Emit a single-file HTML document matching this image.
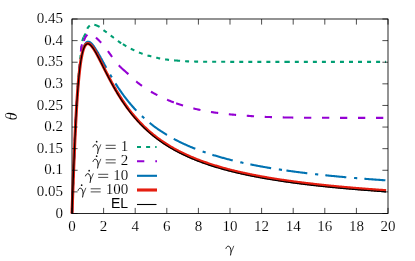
<!DOCTYPE html>
<html><head><meta charset="utf-8"><title>plot</title>
<style>
html,body{margin:0;padding:0;background:#fff;}
body{width:415px;height:261px;overflow:hidden;}
svg{display:block;}
text{font-family:"Liberation Serif",serif;font-size:15px;fill:#000;stroke:#fff;stroke-width:0.12px;}
.txt{will-change:transform;}
.it{font-style:italic;}
.sans{font-family:"Liberation Sans",sans-serif;font-size:14px;stroke:none;}
</style></head><body>
<svg width="415" height="261" viewBox="0 0 415 261" role="img">
<rect width="415" height="261" fill="#fff"/>
<title>θ versus γ for shear rates γ̇ = 1, 2, 10, 100 and EL</title>
<g fill="none" stroke-linecap="butt" stroke-linejoin="round">
<path d="M72.00,213.50 L72.16,209.12 L72.32,204.77 L72.47,200.44 L72.63,196.13 L72.79,191.84 L72.95,187.56 L73.11,183.28 L73.26,179.03 L73.42,174.85 L73.58,170.77 L73.74,166.76 L73.90,162.76 L74.05,158.80 L74.21,154.87 L74.37,150.99 L74.53,147.18 L74.69,143.44 L74.84,139.79 L75.00,136.24 L75.16,132.80 L75.32,129.44 L75.48,126.13 L75.63,122.88 L75.79,119.70 L75.95,116.59 L76.11,113.55 L76.27,110.59 L76.42,107.72 L76.58,104.95 L76.74,102.27 L76.90,99.67 L77.06,97.13 L77.21,94.65 L77.37,92.23 L77.53,89.88 L77.69,87.60 L77.85,85.39 L78.00,83.25 L78.16,81.18 L78.32,79.20 L78.48,77.28 L78.64,75.42 L78.79,73.62 L78.95,71.87 L79.11,70.17 L79.27,68.52 L79.43,66.92 L79.58,65.35 L79.74,63.82 L79.90,62.33 L80.06,60.84 L80.22,59.32 L80.37,57.78 L80.53,56.23 L80.69,54.68 L80.85,53.14 L81.01,51.63 L81.16,50.15 L81.32,48.72 L81.48,47.33 L81.64,46.02 L81.80,44.77 L81.95,43.61 L82.11,42.55 L82.27,41.59 L82.43,40.75 L82.59,40.03 L82.74,39.45 L82.90,38.94 L83.06,38.48 L83.22,38.06 L83.38,37.67 L83.53,37.32 L83.69,36.99 L83.85,36.67 L84.01,36.38 L84.17,36.09 L84.32,35.80 L84.48,35.51 L84.64,35.21 L84.80,34.90 L84.96,34.56 L85.11,34.21 L85.27,33.82 L85.43,33.40 L85.59,32.95 L85.75,32.49 L85.90,32.02 L86.06,31.55 L86.22,31.09 L86.38,30.65 L86.54,30.23 L86.69,29.84 L86.85,29.50 L87.01,29.19 L87.17,28.89 L87.33,28.60 L87.48,28.33 L87.64,28.06 L87.80,27.81 L87.96,27.57 L88.12,27.34 L88.27,27.12 L88.43,26.92 L88.59,26.73 L88.75,26.55 L88.91,26.39 L89.06,26.24 L89.22,26.09 L89.38,25.94 L89.54,25.78 L89.70,25.63 L89.85,25.49 L90.01,25.34 L90.17,25.21 L90.33,25.08 L90.49,24.95 L90.64,24.83 L90.80,24.73 L90.96,24.63 L91.12,24.54 L91.28,24.47 L91.43,24.40 L91.59,24.35 L91.75,24.32 L91.91,24.30 L92.07,24.30 L92.22,24.31 L92.38,24.32 L92.54,24.34 L92.70,24.36 L92.86,24.39 L93.01,24.42 L93.17,24.45 L93.33,24.49 L93.49,24.53 L93.65,24.57 L93.80,24.61 L93.96,24.65 L94.12,24.70 L94.28,24.74 L94.44,24.78 L94.59,24.82 L94.75,24.87 L94.91,24.91 L95.07,24.96 L95.23,25.01 L95.38,25.06 L95.54,25.11 L95.70,25.16 L95.86,25.21 L96.02,25.27 L96.17,25.33 L96.33,25.39 L96.49,25.45 L96.65,25.51 L96.81,25.57 L96.96,25.64 L97.12,25.70 L97.28,25.77 L97.44,25.84 L97.60,25.91 L97.75,25.98 L97.91,26.06 L98.07,26.13 L98.23,26.21 L98.39,26.29 L98.54,26.37 L98.70,26.45 L98.86,26.53 L99.02,26.61 L99.18,26.70 L99.33,26.78 L99.49,26.87 L99.65,26.96 L99.81,27.05 L99.97,27.14 L100.12,27.24 L100.28,27.34 L100.44,27.45 L100.60,27.57 L100.76,27.70 L100.91,27.82 L101.07,27.96 L101.23,28.09 L101.39,28.23 L101.55,28.38 L101.70,28.52 L101.86,28.67 L102.02,28.81 L102.18,28.96 L102.34,29.11 L102.49,29.25 L102.65,29.40 L102.81,29.54 L102.97,29.68 L103.13,29.82 L103.28,29.95 L103.44,30.08 L103.60,30.20 L103.76,30.32 L103.92,30.44 L104.07,30.55 L104.23,30.67 L104.39,30.78 L104.55,30.89 L104.71,31.00 L104.86,31.11 L105.02,31.22 L105.18,31.33 L105.34,31.44 L105.50,31.54 L105.65,31.65 L105.81,31.76 L105.97,31.87 L106.13,31.97 L106.29,32.08 L106.44,32.19 L106.60,32.30 L106.76,32.41 L106.92,32.52 L107.08,32.64 L107.23,32.75 L107.39,32.87 L107.55,32.99 L107.71,33.10 L107.87,33.22 L108.02,33.34 L108.18,33.46 L108.34,33.58 L108.50,33.71 L108.66,33.83 L108.81,33.95 L108.97,34.07 L109.13,34.20 L109.29,34.32 L109.45,34.45 L109.60,34.57 L109.76,34.70 L109.92,34.82 L110.08,34.95 L110.24,35.07 L110.39,35.19 L110.55,35.32 L110.71,35.44 L110.87,35.57 L111.03,35.69 L111.18,35.81 L111.34,35.94 L111.50,36.06 L111.66,36.18 L111.82,36.30 L111.97,36.42 L112.13,36.54 L112.29,36.67 L112.45,36.79 L112.61,36.91 L112.76,37.03 L112.92,37.16 L113.08,37.28 L113.24,37.40 L113.40,37.53 L113.55,37.65 L113.71,37.77 L113.87,37.90 L114.03,38.02 L114.19,38.15 L114.34,38.27 L114.50,38.39 L114.66,38.52 L114.82,38.64 L114.98,38.76 L115.13,38.89 L115.29,39.01 L115.45,39.13 L115.61,39.25 L115.77,39.38 L115.92,39.50 L116.08,39.62 L116.24,39.74 L116.40,39.86 L116.56,39.98 L116.71,40.10 L116.87,40.21 L117.03,40.33 L117.19,40.45 L117.35,40.57 L117.50,40.68 L117.66,40.80 L117.82,40.91 L117.98,41.02 L118.14,41.13 L118.29,41.25 L118.45,41.36 L118.61,41.47 L118.77,41.58 L118.93,41.68 L119.08,41.79 L119.24,41.89 L119.40,42.00 L120.18,42.51 L120.97,43.02 L121.75,43.52 L122.54,44.00 L123.32,44.48 L124.11,44.96 L124.89,45.42 L125.68,45.87 L126.46,46.32 L127.24,46.76 L128.03,47.19 L128.81,47.61 L129.60,48.03 L130.38,48.43 L131.17,48.83 L131.95,49.23 L132.74,49.62 L133.52,50.00 L134.30,50.38 L135.09,50.76 L135.87,51.12 L136.66,51.48 L137.44,51.82 L138.23,52.16 L139.01,52.48 L139.79,52.80 L140.58,53.10 L141.36,53.38 L142.15,53.66 L142.93,53.93 L143.72,54.20 L144.50,54.46 L145.29,54.71 L146.07,54.96 L146.85,55.20 L147.64,55.43 L148.42,55.66 L149.21,55.88 L149.99,56.10 L150.78,56.31 L151.56,56.52 L152.35,56.72 L153.13,56.91 L153.91,57.10 L154.70,57.29 L155.48,57.47 L156.27,57.65 L157.05,57.83 L157.84,58.01 L158.62,58.18 L159.41,58.35 L160.19,58.51 L160.97,58.67 L161.76,58.82 L162.54,58.96 L163.33,59.10 L164.11,59.22 L164.90,59.35 L165.68,59.46 L166.46,59.56 L167.25,59.66 L168.03,59.75 L168.82,59.84 L169.60,59.92 L170.39,60.00 L171.17,60.08 L171.96,60.15 L172.74,60.22 L173.52,60.29 L174.31,60.36 L175.09,60.43 L175.88,60.49 L176.66,60.55 L177.45,60.62 L178.23,60.69 L179.02,60.75 L179.80,60.82 L180.58,60.88 L181.37,60.95 L182.15,61.01 L182.94,61.07 L183.72,61.13 L184.51,61.19 L185.29,61.24 L186.08,61.29 L186.86,61.34 L187.64,61.38 L188.43,61.42 L189.21,61.45 L190.00,61.47 L190.78,61.50 L191.57,61.51 L192.35,61.53 L193.13,61.54 L193.92,61.55 L194.70,61.57 L195.49,61.58 L196.27,61.59 L197.06,61.60 L197.84,61.61 L198.63,61.62 L199.41,61.63 L200.19,61.64 L200.98,61.65 L201.76,61.66 L202.55,61.67 L203.33,61.68 L204.12,61.68 L204.90,61.69 L205.69,61.70 L206.47,61.70 L207.25,61.71 L208.04,61.72 L208.82,61.72 L209.61,61.73 L210.39,61.73 L211.18,61.74 L211.96,61.74 L212.75,61.75 L213.53,61.75 L214.31,61.75 L215.10,61.76 L215.88,61.76 L216.67,61.77 L217.45,61.77 L218.24,61.77 L219.02,61.78 L219.80,61.78 L220.59,61.79 L221.37,61.79 L222.16,61.79 L222.94,61.80 L223.73,61.80 L224.51,61.81 L225.30,61.81 L226.08,61.81 L226.86,61.82 L227.65,61.82 L228.43,61.82 L229.22,61.83 L230.00,61.83 L230.79,61.83 L231.57,61.84 L232.36,61.84 L233.14,61.84 L233.92,61.85 L234.71,61.85 L235.49,61.85 L236.28,61.85 L237.06,61.86 L237.85,61.86 L238.63,61.86 L239.42,61.86 L240.20,61.87 L240.98,61.87 L241.77,61.87 L242.55,61.87 L243.34,61.88 L244.12,61.88 L244.91,61.88 L245.69,61.88 L246.47,61.88 L247.26,61.89 L248.04,61.89 L248.83,61.89 L249.61,61.89 L250.40,61.89 L251.18,61.89 L251.97,61.89 L252.75,61.90 L253.53,61.90 L254.32,61.90 L255.10,61.90 L255.89,61.90 L256.67,61.90 L257.46,61.90 L258.24,61.90 L259.03,61.90 L259.81,61.90 L260.59,61.90 L261.38,61.90 L262.16,61.90 L262.95,61.90 L263.73,61.90 L264.52,61.90 L265.30,61.90 L266.09,61.90 L266.87,61.90 L267.65,61.90 L268.44,61.90 L269.22,61.90 L270.01,61.90 L270.79,61.90 L271.58,61.90 L272.36,61.90 L273.14,61.90 L273.93,61.90 L274.71,61.90 L275.50,61.90 L276.28,61.90 L277.07,61.90 L277.85,61.90 L278.64,61.90 L279.42,61.90 L280.20,61.90 L280.99,61.90 L281.77,61.90 L282.56,61.90 L283.34,61.90 L284.13,61.90 L284.91,61.90 L285.70,61.90 L286.48,61.90 L287.26,61.90 L288.05,61.90 L288.83,61.90 L289.62,61.90 L290.40,61.90 L291.19,61.90 L291.97,61.90 L292.76,61.90 L293.54,61.90 L294.32,61.90 L295.11,61.90 L295.89,61.90 L296.68,61.90 L297.46,61.90 L298.25,61.90 L299.03,61.90 L299.81,61.90 L300.60,61.90 L301.38,61.90 L302.17,61.90 L302.95,61.90 L303.74,61.90 L304.52,61.90 L305.31,61.90 L306.09,61.90 L306.87,61.90 L307.66,61.90 L308.44,61.90 L309.23,61.90 L310.01,61.90 L310.80,61.90 L311.58,61.90 L312.37,61.90 L313.15,61.90 L313.93,61.90 L314.72,61.90 L315.50,61.90 L316.29,61.90 L317.07,61.90 L317.86,61.90 L318.64,61.90 L319.43,61.90 L320.21,61.90 L320.99,61.90 L321.78,61.90 L322.56,61.90 L323.35,61.90 L324.13,61.90 L324.92,61.90 L325.70,61.90 L326.48,61.90 L327.27,61.90 L328.05,61.90 L328.84,61.90 L329.62,61.90 L330.41,61.90 L331.19,61.90 L331.98,61.90 L332.76,61.90 L333.54,61.90 L334.33,61.90 L335.11,61.90 L335.90,61.90 L336.68,61.90 L337.47,61.90 L338.25,61.90 L339.04,61.90 L339.82,61.90 L340.60,61.90 L341.39,61.90 L342.17,61.90 L342.96,61.90 L343.74,61.90 L344.53,61.90 L345.31,61.90 L346.10,61.90 L346.88,61.90 L347.66,61.90 L348.45,61.90 L349.23,61.90 L350.02,61.90 L350.80,61.90 L351.59,61.90 L352.37,61.90 L353.15,61.90 L353.94,61.90 L354.72,61.90 L355.51,61.90 L356.29,61.90 L357.08,61.90 L357.86,61.90 L358.65,61.90 L359.43,61.90 L360.21,61.90 L361.00,61.90 L361.78,61.90 L362.57,61.90 L363.35,61.90 L364.14,61.90 L364.92,61.90 L365.71,61.90 L366.49,61.90 L367.27,61.90 L368.06,61.90 L368.84,61.90 L369.63,61.90 L370.41,61.90 L371.20,61.90 L371.98,61.90 L372.77,61.90 L373.55,61.90 L374.33,61.90 L375.12,61.90 L375.90,61.90 L376.69,61.90 L377.47,61.90 L378.26,61.90 L379.04,61.90 L379.82,61.90 L380.61,61.90 L381.39,61.90 L382.18,61.90 L382.96,61.90 L383.75,61.90 L384.53,61.90 L385.32,61.90 L386.10,61.90" stroke="#009e73" stroke-width="2.1" stroke-dasharray="4.00 5.03 4.00 5.03 4.00 5.03 4.00 5.03 4.00 5.03 4.00 5.03 4.00 5.03 4.00 5.03 4.00 5.03 4.00 5.03 4.00 5.03 4.00 5.03 4.00 5.03 4.00 5.03 5.19 5.03 4.00 5.03 4.00 5.03 4.00 5.03 4.00 5.03 4.00 0.37 4.00 5.03 4.00 5.03 5.75 5.03 4.00 5.03 4.00 5.03 4.00 1.94 4.00 5.03 4.00 5.03 4.00 5.03 4.00 5.03 4.00 5.03 4.00 5.03 6.03 5.03 4.00 5.03 4.00 5.03 4.00 5.03 4.00 5.03 4.00 5.03 4.00 5.03 4.00 5.03 4.00 5.03 4.00 5.03 4.00 5.03 4.00 5.03 5.38 5.03 4.00 5.03 4.00 5.03 4.00 5.03 4.00 5.03 4.00 5.03 4.00 5.03 4.00 5.03 4.00 5.03 4.00 5.03 4.00 5.03 3.87 100.00"/>
<path d="M72.00,213.50 L72.16,209.13 L72.32,204.79 L72.47,200.47 L72.63,196.18 L72.79,191.92 L72.95,187.66 L73.11,183.40 L73.26,179.18 L73.42,175.03 L73.58,170.98 L73.74,167.00 L73.90,163.03 L74.05,159.10 L74.21,155.21 L74.37,151.37 L74.53,147.60 L74.69,143.90 L74.84,140.29 L75.00,136.78 L75.16,133.38 L75.32,130.06 L75.48,126.80 L75.63,123.60 L75.79,120.46 L75.95,117.40 L76.11,114.41 L76.27,111.50 L76.42,108.68 L76.58,105.96 L76.74,103.33 L76.90,100.79 L77.06,98.30 L77.21,95.88 L77.37,93.52 L77.53,91.22 L77.69,89.00 L77.85,86.84 L78.00,84.76 L78.16,82.76 L78.32,80.84 L78.48,79.01 L78.64,77.29 L78.79,75.64 L78.95,74.06 L79.11,72.51 L79.27,70.98 L79.43,69.45 L79.58,67.90 L79.74,66.29 L79.90,64.62 L80.06,62.79 L80.22,60.77 L80.37,58.63 L80.53,56.44 L80.69,54.27 L80.85,52.20 L81.01,50.31 L81.16,48.66 L81.32,47.33 L81.48,46.39 L81.64,45.75 L81.80,45.18 L81.95,44.67 L82.11,44.21 L82.27,43.80 L82.43,43.42 L82.59,43.08 L82.74,42.76 L82.90,42.45 L83.06,42.15 L83.22,41.86 L83.38,41.55 L83.53,41.24 L83.69,40.90 L83.85,40.56 L84.01,40.22 L84.17,39.87 L84.32,39.52 L84.48,39.18 L84.64,38.83 L84.80,38.50 L84.96,38.16 L85.11,37.84 L85.27,37.52 L85.43,37.22 L85.59,36.92 L85.75,36.65 L85.90,36.39 L86.06,36.14 L86.22,35.92 L86.38,35.72 L86.54,35.54 L86.69,35.39 L86.85,35.26 L87.01,35.14 L87.17,35.02 L87.33,34.90 L87.48,34.79 L87.64,34.67 L87.80,34.56 L87.96,34.46 L88.12,34.35 L88.27,34.25 L88.43,34.16 L88.59,34.06 L88.75,33.97 L88.91,33.89 L89.06,33.81 L89.22,33.74 L89.38,33.67 L89.54,33.60 L89.70,33.54 L89.85,33.49 L90.01,33.44 L90.17,33.40 L90.33,33.37 L90.49,33.34 L90.64,33.32 L90.80,33.31 L90.96,33.30 L91.12,33.30 L91.28,33.32 L91.43,33.36 L91.59,33.41 L91.75,33.47 L91.91,33.54 L92.07,33.63 L92.22,33.73 L92.38,33.83 L92.54,33.95 L92.70,34.08 L92.86,34.22 L93.01,34.36 L93.17,34.51 L93.33,34.67 L93.49,34.83 L93.65,35.00 L93.80,35.17 L93.96,35.34 L94.12,35.52 L94.28,35.70 L94.44,35.88 L94.59,36.07 L94.75,36.25 L94.91,36.43 L95.07,36.61 L95.23,36.79 L95.38,36.96 L95.54,37.14 L95.70,37.30 L95.86,37.47 L96.02,37.62 L96.17,37.78 L96.33,37.92 L96.49,38.07 L96.65,38.22 L96.81,38.37 L96.96,38.51 L97.12,38.66 L97.28,38.81 L97.44,38.96 L97.60,39.11 L97.75,39.26 L97.91,39.42 L98.07,39.57 L98.23,39.72 L98.39,39.88 L98.54,40.03 L98.70,40.19 L98.86,40.34 L99.02,40.50 L99.18,40.66 L99.33,40.82 L99.49,40.97 L99.65,41.13 L99.81,41.30 L99.97,41.46 L100.12,41.62 L100.28,41.78 L100.44,41.95 L100.60,42.11 L100.76,42.28 L100.91,42.45 L101.07,42.62 L101.23,42.79 L101.39,42.96 L101.55,43.13 L101.70,43.30 L101.86,43.48 L102.02,43.66 L102.18,43.83 L102.34,44.01 L102.49,44.19 L102.65,44.38 L102.81,44.56 L102.97,44.75 L103.13,44.93 L103.28,45.12 L103.44,45.31 L103.60,45.50 L103.76,45.70 L103.92,45.89 L104.07,46.08 L104.23,46.28 L104.39,46.48 L104.55,46.68 L104.71,46.88 L104.86,47.08 L105.02,47.28 L105.18,47.48 L105.34,47.68 L105.50,47.89 L105.65,48.09 L105.81,48.30 L105.97,48.51 L106.13,48.72 L106.29,48.93 L106.44,49.14 L106.60,49.35 L106.76,49.56 L106.92,49.77 L107.08,49.98 L107.23,50.19 L107.39,50.41 L107.55,50.62 L107.71,50.84 L107.87,51.05 L108.02,51.27 L108.18,51.48 L108.34,51.70 L108.50,51.92 L108.66,52.14 L108.81,52.35 L108.97,52.57 L109.13,52.79 L109.29,53.01 L109.45,53.22 L109.60,53.44 L109.76,53.66 L109.92,53.88 L110.08,54.10 L110.24,54.32 L110.39,54.54 L110.55,54.75 L110.71,54.97 L110.87,55.19 L111.03,55.41 L111.18,55.63 L111.34,55.84 L111.50,56.06 L111.66,56.28 L111.82,56.50 L111.97,56.71 L112.13,56.93 L112.29,57.14 L112.45,57.36 L112.61,57.58 L112.76,57.79 L112.92,58.00 L113.08,58.22 L113.24,58.43 L113.40,58.64 L113.55,58.85 L113.71,59.06 L113.87,59.27 L114.03,59.48 L114.19,59.69 L114.34,59.90 L114.50,60.10 L114.66,60.31 L114.82,60.52 L114.98,60.72 L115.13,60.92 L115.29,61.12 L115.45,61.32 L115.61,61.52 L115.77,61.72 L115.92,61.92 L116.08,62.12 L116.24,62.31 L116.40,62.51 L116.56,62.70 L116.71,62.89 L116.87,63.08 L117.03,63.27 L117.19,63.46 L117.35,63.64 L117.50,63.83 L117.66,64.01 L117.82,64.19 L117.98,64.37 L118.14,64.55 L118.29,64.73 L118.45,64.90 L118.61,65.07 L118.77,65.25 L118.93,65.42 L119.08,65.58 L119.24,65.75 L119.40,65.91 L120.18,66.71 L120.97,67.48 L121.75,68.23 L122.54,68.95 L123.32,69.66 L124.11,70.36 L124.89,71.05 L125.68,71.74 L126.46,72.44 L127.24,73.15 L128.03,73.87 L128.81,74.60 L129.60,75.35 L130.38,76.09 L131.17,76.84 L131.95,77.59 L132.74,78.33 L133.52,79.06 L134.30,79.77 L135.09,80.47 L135.87,81.14 L136.66,81.80 L137.44,82.44 L138.23,83.07 L139.01,83.68 L139.79,84.28 L140.58,84.87 L141.36,85.43 L142.15,85.98 L142.93,86.53 L143.72,87.07 L144.50,87.60 L145.29,88.12 L146.07,88.64 L146.85,89.14 L147.64,89.64 L148.42,90.14 L149.21,90.62 L149.99,91.09 L150.78,91.56 L151.56,92.02 L152.35,92.47 L153.13,92.91 L153.91,93.34 L154.70,93.76 L155.48,94.18 L156.27,94.60 L157.05,95.00 L157.84,95.41 L158.62,95.81 L159.41,96.20 L160.19,96.58 L160.97,96.97 L161.76,97.34 L162.54,97.71 L163.33,98.08 L164.11,98.44 L164.90,98.79 L165.68,99.14 L166.46,99.48 L167.25,99.82 L168.03,100.15 L168.82,100.47 L169.60,100.79 L170.39,101.10 L171.17,101.41 L171.96,101.71 L172.74,102.01 L173.52,102.30 L174.31,102.58 L175.09,102.86 L175.88,103.14 L176.66,103.41 L177.45,103.67 L178.23,103.93 L179.02,104.19 L179.80,104.44 L180.58,104.68 L181.37,104.93 L182.15,105.18 L182.94,105.42 L183.72,105.66 L184.51,105.90 L185.29,106.14 L186.08,106.37 L186.86,106.60 L187.64,106.83 L188.43,107.05 L189.21,107.27 L190.00,107.49 L190.78,107.71 L191.57,107.92 L192.35,108.12 L193.13,108.32 L193.92,108.52 L194.70,108.71 L195.49,108.90 L196.27,109.09 L197.06,109.26 L197.84,109.44 L198.63,109.61 L199.41,109.78 L200.19,109.94 L200.98,110.11 L201.76,110.27 L202.55,110.43 L203.33,110.58 L204.12,110.74 L204.90,110.89 L205.69,111.04 L206.47,111.18 L207.25,111.33 L208.04,111.47 L208.82,111.60 L209.61,111.74 L210.39,111.87 L211.18,111.99 L211.96,112.12 L212.75,112.24 L213.53,112.36 L214.31,112.47 L215.10,112.59 L215.88,112.70 L216.67,112.80 L217.45,112.91 L218.24,113.01 L219.02,113.11 L219.80,113.21 L220.59,113.31 L221.37,113.41 L222.16,113.50 L222.94,113.59 L223.73,113.69 L224.51,113.77 L225.30,113.86 L226.08,113.95 L226.86,114.03 L227.65,114.12 L228.43,114.20 L229.22,114.28 L230.00,114.36 L230.79,114.43 L231.57,114.51 L232.36,114.59 L233.14,114.66 L233.92,114.73 L234.71,114.81 L235.49,114.88 L236.28,114.95 L237.06,115.01 L237.85,115.08 L238.63,115.15 L239.42,115.21 L240.20,115.28 L240.98,115.34 L241.77,115.41 L242.55,115.47 L243.34,115.53 L244.12,115.59 L244.91,115.64 L245.69,115.70 L246.47,115.76 L247.26,115.81 L248.04,115.87 L248.83,115.92 L249.61,115.97 L250.40,116.03 L251.18,116.08 L251.97,116.13 L252.75,116.18 L253.53,116.23 L254.32,116.28 L255.10,116.33 L255.89,116.38 L256.67,116.43 L257.46,116.48 L258.24,116.52 L259.03,116.57 L259.81,116.61 L260.59,116.66 L261.38,116.70 L262.16,116.74 L262.95,116.78 L263.73,116.82 L264.52,116.86 L265.30,116.89 L266.09,116.93 L266.87,116.96 L267.65,116.99 L268.44,117.02 L269.22,117.04 L270.01,117.07 L270.79,117.09 L271.58,117.12 L272.36,117.14 L273.14,117.17 L273.93,117.19 L274.71,117.21 L275.50,117.24 L276.28,117.26 L277.07,117.28 L277.85,117.30 L278.64,117.32 L279.42,117.34 L280.20,117.35 L280.99,117.37 L281.77,117.39 L282.56,117.41 L283.34,117.42 L284.13,117.44 L284.91,117.45 L285.70,117.47 L286.48,117.48 L287.26,117.50 L288.05,117.51 L288.83,117.52 L289.62,117.54 L290.40,117.55 L291.19,117.56 L291.97,117.57 L292.76,117.59 L293.54,117.60 L294.32,117.61 L295.11,117.62 L295.89,117.63 L296.68,117.64 L297.46,117.66 L298.25,117.67 L299.03,117.68 L299.81,117.68 L300.60,117.69 L301.38,117.70 L302.17,117.71 L302.95,117.72 L303.74,117.73 L304.52,117.73 L305.31,117.74 L306.09,117.74 L306.87,117.75 L307.66,117.75 L308.44,117.75 L309.23,117.76 L310.01,117.76 L310.80,117.76 L311.58,117.77 L312.37,117.77 L313.15,117.77 L313.93,117.77 L314.72,117.78 L315.50,117.78 L316.29,117.78 L317.07,117.78 L317.86,117.78 L318.64,117.79 L319.43,117.79 L320.21,117.79 L320.99,117.79 L321.78,117.79 L322.56,117.79 L323.35,117.80 L324.13,117.80 L324.92,117.80 L325.70,117.80 L326.48,117.80 L327.27,117.80 L328.05,117.81 L328.84,117.81 L329.62,117.81 L330.41,117.81 L331.19,117.81 L331.98,117.81 L332.76,117.82 L333.54,117.82 L334.33,117.82 L335.11,117.82 L335.90,117.82 L336.68,117.82 L337.47,117.83 L338.25,117.83 L339.04,117.83 L339.82,117.83 L340.60,117.83 L341.39,117.83 L342.17,117.84 L342.96,117.84 L343.74,117.84 L344.53,117.84 L345.31,117.84 L346.10,117.84 L346.88,117.84 L347.66,117.85 L348.45,117.85 L349.23,117.85 L350.02,117.85 L350.80,117.85 L351.59,117.85 L352.37,117.86 L353.15,117.86 L353.94,117.86 L354.72,117.86 L355.51,117.86 L356.29,117.86 L357.08,117.86 L357.86,117.86 L358.65,117.87 L359.43,117.87 L360.21,117.87 L361.00,117.87 L361.78,117.87 L362.57,117.87 L363.35,117.87 L364.14,117.87 L364.92,117.88 L365.71,117.88 L366.49,117.88 L367.27,117.88 L368.06,117.88 L368.84,117.88 L369.63,117.88 L370.41,117.88 L371.20,117.88 L371.98,117.89 L372.77,117.89 L373.55,117.89 L374.33,117.89 L375.12,117.89 L375.90,117.89 L376.69,117.89 L377.47,117.89 L378.26,117.89 L379.04,117.89 L379.82,117.89 L380.61,117.89 L381.39,117.90 L382.18,117.90 L382.96,117.90 L383.75,117.90 L384.53,117.90 L385.32,117.90 L386.10,117.90" stroke="#9400d3" stroke-width="2.1" stroke-dasharray="7.30 10.70 7.30 10.70 7.30 10.70 7.30 10.70 7.30 10.70 7.30 10.70 7.30 10.70 7.48 10.70 7.30 10.70 7.30 3.90 7.30 10.61 7.30 10.70 7.30 10.70 12.95 10.70 7.30 10.70 7.30 10.70 7.30 2.41 7.30 10.70 7.30 10.70 7.30 10.70 7.30 10.70 7.30 10.70 7.30 10.70 10.58 10.70 7.30 10.70 7.30 10.70 7.30 10.70 7.30 10.70 7.30 100.00"/>
<path d="M72.00,213.50 L72.16,209.18 L72.32,204.86 L72.47,200.55 L72.63,196.26 L72.79,191.99 L72.95,187.75 L73.11,183.54 L73.26,179.38 L73.42,175.25 L73.58,171.18 L73.74,167.16 L73.90,163.20 L74.05,159.30 L74.21,155.46 L74.37,151.69 L74.53,148.00 L74.69,144.37 L74.84,140.82 L75.00,137.35 L75.16,133.95 L75.32,130.63 L75.48,127.40 L75.63,124.24 L75.79,121.16 L75.95,118.17 L76.11,115.25 L76.27,112.42 L76.42,109.66 L76.58,106.99 L76.74,104.39 L76.90,101.87 L77.06,99.43 L77.21,97.06 L77.37,94.76 L77.53,92.54 L77.69,90.39 L77.85,88.31 L78.00,86.30 L78.16,84.35 L78.32,82.47 L78.48,80.65 L78.64,78.90 L78.79,77.20 L78.95,75.57 L79.11,73.99 L79.27,72.47 L79.43,71.00 L79.58,69.59 L79.74,68.23 L79.90,66.92 L80.06,65.65 L80.22,64.44 L80.37,63.27 L80.53,62.14 L80.69,61.06 L80.85,60.02 L81.01,59.02 L81.16,58.06 L81.32,57.14 L81.48,56.26 L81.64,55.42 L81.80,54.60 L81.95,53.83 L82.11,53.08 L82.27,52.37 L82.43,51.69 L82.59,51.04 L82.74,50.42 L82.90,49.82 L83.06,49.26 L83.22,48.72 L83.38,48.21 L83.53,47.72 L83.69,47.25 L83.85,46.81 L84.01,46.40 L84.17,46.00 L84.32,45.63 L84.48,45.27 L84.64,44.94 L84.80,44.63 L84.96,44.34 L85.11,44.06 L85.27,43.80 L85.43,43.56 L85.59,43.34 L85.75,43.14 L85.90,42.94 L86.06,42.77 L86.22,42.61 L86.38,42.46 L86.54,42.33 L86.69,42.21 L86.85,42.11 L87.01,42.02 L87.17,41.94 L87.33,41.87 L87.48,41.82 L87.64,41.77 L87.80,41.74 L87.96,41.72 L88.12,41.71 L88.27,41.70 L88.43,41.71 L88.59,41.73 L88.75,41.76 L88.91,41.79 L89.06,41.84 L89.22,41.89 L89.38,41.95 L89.54,42.02 L89.70,42.10 L89.85,42.18 L90.01,42.28 L90.17,42.37 L90.33,42.48 L90.49,42.59 L90.64,42.71 L90.80,42.84 L90.96,42.97 L91.12,43.10 L91.28,43.25 L91.43,43.40 L91.59,43.55 L91.75,43.71 L91.91,43.87 L92.07,44.04 L92.22,44.21 L92.38,44.39 L92.54,44.57 L92.70,44.76 L92.86,44.95 L93.01,45.15 L93.17,45.35 L93.33,45.55 L93.49,45.75 L93.65,45.96 L93.80,46.18 L93.96,46.39 L94.12,46.61 L94.28,46.84 L94.44,47.06 L94.59,47.29 L94.75,47.52 L94.91,47.76 L95.07,47.99 L95.23,48.23 L95.38,48.48 L95.54,48.72 L95.70,48.97 L95.86,49.22 L96.02,49.47 L96.17,49.72 L96.33,49.97 L96.49,50.23 L96.65,50.49 L96.81,50.75 L96.96,51.01 L97.12,51.27 L97.28,51.54 L97.44,51.81 L97.60,52.07 L97.75,52.34 L97.91,52.61 L98.07,52.89 L98.23,53.16 L98.39,53.43 L98.54,53.71 L98.70,53.99 L98.86,54.26 L99.02,54.54 L99.18,54.82 L99.33,55.10 L99.49,55.38 L99.65,55.66 L99.81,55.94 L99.97,56.23 L100.12,56.51 L100.28,56.80 L100.44,57.08 L100.60,57.37 L100.76,57.65 L100.91,57.94 L101.07,58.22 L101.23,58.51 L101.39,58.80 L101.55,59.09 L101.70,59.37 L101.86,59.66 L102.02,59.95 L102.18,60.24 L102.34,60.53 L102.49,60.82 L102.65,61.11 L102.81,61.39 L102.97,61.68 L103.13,61.97 L103.28,62.26 L103.44,62.55 L103.60,62.84 L103.76,63.13 L103.92,63.42 L104.07,63.71 L104.23,64.00 L104.39,64.28 L104.55,64.57 L104.71,64.86 L104.86,65.15 L105.02,65.44 L105.18,65.72 L105.34,66.01 L105.50,66.30 L105.65,66.59 L105.81,66.87 L105.97,67.16 L106.13,67.44 L106.29,67.73 L106.44,68.01 L106.60,68.30 L106.76,68.58 L106.92,68.87 L107.08,69.15 L107.23,69.43 L107.39,69.72 L107.55,70.00 L107.71,70.28 L107.87,70.56 L108.02,70.84 L108.18,71.12 L108.34,71.40 L108.50,71.68 L108.66,71.96 L108.81,72.24 L108.97,72.52 L109.13,72.80 L109.29,73.07 L109.45,73.35 L109.60,73.62 L109.76,73.90 L109.92,74.17 L110.08,74.45 L110.24,74.72 L110.39,74.99 L110.55,75.27 L110.71,75.54 L110.87,75.81 L111.03,76.08 L111.18,76.35 L111.34,76.62 L111.50,76.89 L111.66,77.15 L111.82,77.42 L111.97,77.69 L112.13,77.95 L112.29,78.22 L112.45,78.48 L112.61,78.75 L112.76,79.01 L112.92,79.27 L113.08,79.53 L113.24,79.80 L113.40,80.06 L113.55,80.32 L113.71,80.57 L113.87,80.83 L114.03,81.09 L114.19,81.35 L114.34,81.60 L114.50,81.86 L114.66,82.11 L114.82,82.37 L114.98,82.62 L115.13,82.88 L115.29,83.13 L115.45,83.38 L115.61,83.63 L115.77,83.88 L115.92,84.13 L116.08,84.38 L116.24,84.62 L116.40,84.87 L116.56,85.12 L116.71,85.36 L116.87,85.61 L117.03,85.85 L117.19,86.10 L117.35,86.34 L117.50,86.58 L117.66,86.82 L117.82,87.06 L117.98,87.30 L118.14,87.54 L118.29,87.78 L118.45,88.02 L118.61,88.26 L118.77,88.49 L118.93,88.73 L119.08,88.96 L119.24,89.20 L119.40,89.43 L120.18,90.58 L120.97,91.71 L121.75,92.82 L122.54,93.92 L123.32,95.00 L124.11,96.06 L124.89,97.11 L125.68,98.14 L126.46,99.15 L127.24,100.15 L128.03,101.13 L128.81,102.09 L129.60,103.04 L130.38,103.98 L131.17,104.90 L131.95,105.80 L132.74,106.69 L133.52,107.57 L134.30,108.44 L135.09,109.28 L135.87,110.12 L136.66,110.94 L137.44,111.76 L138.23,112.55 L139.01,113.34 L139.79,114.11 L140.58,114.87 L141.36,115.62 L142.15,116.36 L142.93,117.09 L143.72,117.81 L144.50,118.51 L145.29,119.21 L146.07,119.89 L146.85,120.57 L147.64,121.23 L148.42,121.89 L149.21,122.54 L149.99,123.17 L150.78,123.80 L151.56,124.42 L152.35,125.03 L153.13,125.63 L153.91,126.22 L154.70,126.81 L155.48,127.39 L156.27,127.95 L157.05,128.51 L157.84,129.07 L158.62,129.61 L159.41,130.15 L160.19,130.68 L160.97,131.21 L161.76,131.72 L162.54,132.23 L163.33,132.74 L164.11,133.23 L164.90,133.73 L165.68,134.21 L166.46,134.69 L167.25,135.16 L168.03,135.62 L168.82,136.08 L169.60,136.54 L170.39,136.99 L171.17,137.43 L171.96,137.87 L172.74,138.30 L173.52,138.73 L174.31,139.15 L175.09,139.56 L175.88,139.98 L176.66,140.38 L177.45,140.78 L178.23,141.18 L179.02,141.57 L179.80,141.96 L180.58,142.34 L181.37,142.72 L182.15,143.10 L182.94,143.47 L183.72,143.83 L184.51,144.19 L185.29,144.55 L186.08,144.90 L186.86,145.25 L187.64,145.60 L188.43,145.94 L189.21,146.28 L190.00,146.61 L190.78,146.94 L191.57,147.27 L192.35,147.59 L193.13,147.91 L193.92,148.23 L194.70,148.54 L195.49,148.85 L196.27,149.15 L197.06,149.46 L197.84,149.76 L198.63,150.05 L199.41,150.34 L200.19,150.63 L200.98,150.92 L201.76,151.21 L202.55,151.49 L203.33,151.76 L204.12,152.04 L204.90,152.31 L205.69,152.58 L206.47,152.85 L207.25,153.11 L208.04,153.37 L208.82,153.63 L209.61,153.89 L210.39,154.14 L211.18,154.40 L211.96,154.64 L212.75,154.89 L213.53,155.13 L214.31,155.38 L215.10,155.62 L215.88,155.85 L216.67,156.09 L217.45,156.32 L218.24,156.55 L219.02,156.78 L219.80,157.00 L220.59,157.23 L221.37,157.45 L222.16,157.67 L222.94,157.88 L223.73,158.10 L224.51,158.31 L225.30,158.53 L226.08,158.73 L226.86,158.94 L227.65,159.15 L228.43,159.35 L229.22,159.55 L230.00,159.75 L230.79,159.95 L231.57,160.15 L232.36,160.34 L233.14,160.54 L233.92,160.73 L234.71,160.92 L235.49,161.10 L236.28,161.29 L237.06,161.48 L237.85,161.66 L238.63,161.84 L239.42,162.02 L240.20,162.20 L240.98,162.37 L241.77,162.55 L242.55,162.72 L243.34,162.90 L244.12,163.07 L244.91,163.24 L245.69,163.40 L246.47,163.57 L247.26,163.74 L248.04,163.90 L248.83,164.06 L249.61,164.22 L250.40,164.38 L251.18,164.54 L251.97,164.70 L252.75,164.85 L253.53,165.01 L254.32,165.16 L255.10,165.31 L255.89,165.46 L256.67,165.61 L257.46,165.76 L258.24,165.91 L259.03,166.06 L259.81,166.20 L260.59,166.35 L261.38,166.49 L262.16,166.63 L262.95,166.77 L263.73,166.91 L264.52,167.05 L265.30,167.19 L266.09,167.32 L266.87,167.46 L267.65,167.59 L268.44,167.72 L269.22,167.86 L270.01,167.99 L270.79,168.12 L271.58,168.25 L272.36,168.37 L273.14,168.50 L273.93,168.63 L274.71,168.75 L275.50,168.88 L276.28,169.00 L277.07,169.12 L277.85,169.25 L278.64,169.37 L279.42,169.49 L280.20,169.61 L280.99,169.72 L281.77,169.84 L282.56,169.96 L283.34,170.07 L284.13,170.19 L284.91,170.30 L285.70,170.42 L286.48,170.53 L287.26,170.64 L288.05,170.75 L288.83,170.86 L289.62,170.97 L290.40,171.08 L291.19,171.19 L291.97,171.29 L292.76,171.40 L293.54,171.51 L294.32,171.61 L295.11,171.72 L295.89,171.82 L296.68,171.92 L297.46,172.02 L298.25,172.13 L299.03,172.23 L299.81,172.33 L300.60,172.43 L301.38,172.53 L302.17,172.62 L302.95,172.72 L303.74,172.82 L304.52,172.91 L305.31,173.01 L306.09,173.11 L306.87,173.20 L307.66,173.29 L308.44,173.39 L309.23,173.48 L310.01,173.57 L310.80,173.66 L311.58,173.75 L312.37,173.84 L313.15,173.93 L313.93,174.02 L314.72,174.11 L315.50,174.20 L316.29,174.29 L317.07,174.37 L317.86,174.46 L318.64,174.55 L319.43,174.63 L320.21,174.72 L320.99,174.80 L321.78,174.88 L322.56,174.97 L323.35,175.05 L324.13,175.13 L324.92,175.21 L325.70,175.30 L326.48,175.38 L327.27,175.46 L328.05,175.54 L328.84,175.62 L329.62,175.69 L330.41,175.77 L331.19,175.85 L331.98,175.93 L332.76,176.00 L333.54,176.08 L334.33,176.16 L335.11,176.23 L335.90,176.31 L336.68,176.38 L337.47,176.46 L338.25,176.53 L339.04,176.61 L339.82,176.68 L340.60,176.75 L341.39,176.82 L342.17,176.90 L342.96,176.97 L343.74,177.04 L344.53,177.11 L345.31,177.18 L346.10,177.25 L346.88,177.32 L347.66,177.39 L348.45,177.46 L349.23,177.52 L350.02,177.59 L350.80,177.66 L351.59,177.73 L352.37,177.79 L353.15,177.86 L353.94,177.93 L354.72,177.99 L355.51,178.06 L356.29,178.12 L357.08,178.19 L357.86,178.25 L358.65,178.32 L359.43,178.38 L360.21,178.44 L361.00,178.51 L361.78,178.57 L362.57,178.63 L363.35,178.69 L364.14,178.75 L364.92,178.82 L365.71,178.88 L366.49,178.94 L367.27,179.00 L368.06,179.06 L368.84,179.12 L369.63,179.18 L370.41,179.24 L371.20,179.29 L371.98,179.35 L372.77,179.41 L373.55,179.47 L374.33,179.53 L375.12,179.58 L375.90,179.64 L376.69,179.70 L377.47,179.75 L378.26,179.81 L379.04,179.87 L379.82,179.92 L380.61,179.98 L381.39,180.03 L382.18,180.09 L382.96,180.14 L383.75,180.20 L384.53,180.25 L385.32,180.30 L386.10,180.36" stroke="#0072b2" stroke-width="2.1" stroke-dasharray="21.10 7.80 3.20 7.10 21.10 7.80 3.20 7.10 21.10 7.80 3.20 7.10 28.23 7.80 3.20 7.10 42.95 7.80 3.20 7.10 34.35 7.80 3.20 7.10 21.10 7.80 23.79 7.80 3.20 7.10 21.10 7.80 3.20 7.10 21.10 7.80 3.20 4.45 21.10 7.80 3.20 7.10 21.10 7.80 3.20 7.10 21.10 100.00"/>
<path d="M72.00,213.50 L72.16,209.18 L72.32,204.86 L72.47,200.56 L72.63,196.27 L72.79,192.01 L72.95,187.78 L73.11,183.58 L73.26,179.42 L73.42,175.31 L73.58,171.24 L73.74,167.23 L73.90,163.28 L74.05,159.39 L74.21,155.57 L74.37,151.81 L74.53,148.12 L74.69,144.51 L74.84,140.97 L75.00,137.51 L75.16,134.13 L75.32,130.83 L75.48,127.60 L75.63,124.46 L75.79,121.40 L75.95,118.42 L76.11,115.52 L76.27,112.70 L76.42,109.96 L76.58,107.30 L76.74,104.72 L76.90,102.21 L77.06,99.78 L77.21,97.43 L77.37,95.15 L77.53,92.95 L77.69,90.82 L77.85,88.75 L78.00,86.76 L78.16,84.83 L78.32,82.96 L78.48,81.17 L78.64,79.43 L78.79,77.75 L78.95,76.14 L79.11,74.58 L79.27,73.08 L79.43,71.63 L79.58,70.24 L79.74,68.89 L79.90,67.60 L80.06,66.36 L80.22,65.16 L80.37,64.01 L80.53,62.91 L80.69,61.85 L80.85,60.83 L81.01,59.85 L81.16,58.91 L81.32,58.01 L81.48,57.15 L81.64,56.33 L81.80,55.54 L81.95,54.78 L82.11,54.06 L82.27,53.37 L82.43,52.71 L82.59,52.08 L82.74,51.48 L82.90,50.91 L83.06,50.36 L83.22,49.85 L83.38,49.36 L83.53,48.89 L83.69,48.45 L83.85,48.03 L84.01,47.64 L84.17,47.27 L84.32,46.92 L84.48,46.59 L84.64,46.28 L84.80,45.99 L84.96,45.72 L85.11,45.47 L85.27,45.23 L85.43,45.02 L85.59,44.82 L85.75,44.64 L85.90,44.47 L86.06,44.32 L86.22,44.18 L86.38,44.06 L86.54,43.95 L86.69,43.86 L86.85,43.78 L87.01,43.71 L87.17,43.66 L87.33,43.61 L87.48,43.58 L87.64,43.56 L87.80,43.55 L87.96,43.56 L88.12,43.57 L88.27,43.59 L88.43,43.63 L88.59,43.67 L88.75,43.72 L88.91,43.78 L89.06,43.85 L89.22,43.93 L89.38,44.01 L89.54,44.11 L89.70,44.21 L89.85,44.32 L90.01,44.44 L90.17,44.56 L90.33,44.69 L90.49,44.83 L90.64,44.97 L90.80,45.12 L90.96,45.28 L91.12,45.44 L91.28,45.61 L91.43,45.79 L91.59,45.96 L91.75,46.15 L91.91,46.34 L92.07,46.53 L92.22,46.73 L92.38,46.93 L92.54,47.14 L92.70,47.35 L92.86,47.57 L93.01,47.79 L93.17,48.02 L93.33,48.24 L93.49,48.48 L93.65,48.71 L93.80,48.95 L93.96,49.19 L94.12,49.44 L94.28,49.69 L94.44,49.94 L94.59,50.19 L94.75,50.45 L94.91,50.71 L95.07,50.97 L95.23,51.24 L95.38,51.50 L95.54,51.77 L95.70,52.05 L95.86,52.32 L96.02,52.60 L96.17,52.87 L96.33,53.15 L96.49,53.44 L96.65,53.72 L96.81,54.01 L96.96,54.29 L97.12,54.58 L97.28,54.87 L97.44,55.17 L97.60,55.46 L97.75,55.75 L97.91,56.05 L98.07,56.35 L98.23,56.65 L98.39,56.95 L98.54,57.25 L98.70,57.55 L98.86,57.85 L99.02,58.15 L99.18,58.46 L99.33,58.76 L99.49,59.07 L99.65,59.38 L99.81,59.68 L99.97,59.99 L100.12,60.30 L100.28,60.61 L100.44,60.92 L100.60,61.23 L100.76,61.54 L100.91,61.85 L101.07,62.16 L101.23,62.47 L101.39,62.79 L101.55,63.10 L101.70,63.41 L101.86,63.72 L102.02,64.04 L102.18,64.35 L102.34,64.66 L102.49,64.98 L102.65,65.29 L102.81,65.60 L102.97,65.92 L103.13,66.23 L103.28,66.55 L103.44,66.86 L103.60,67.17 L103.76,67.49 L103.92,67.80 L104.07,68.11 L104.23,68.43 L104.39,68.74 L104.55,69.05 L104.71,69.36 L104.86,69.68 L105.02,69.99 L105.18,70.30 L105.34,70.61 L105.50,70.92 L105.65,71.23 L105.81,71.54 L105.97,71.85 L106.13,72.16 L106.29,72.47 L106.44,72.78 L106.60,73.09 L106.76,73.39 L106.92,73.70 L107.08,74.01 L107.23,74.32 L107.39,74.62 L107.55,74.93 L107.71,75.23 L107.87,75.54 L108.02,75.84 L108.18,76.14 L108.34,76.45 L108.50,76.75 L108.66,77.05 L108.81,77.35 L108.97,77.65 L109.13,77.95 L109.29,78.25 L109.45,78.55 L109.60,78.85 L109.76,79.15 L109.92,79.44 L110.08,79.74 L110.24,80.04 L110.39,80.33 L110.55,80.63 L110.71,80.92 L110.87,81.21 L111.03,81.51 L111.18,81.80 L111.34,82.09 L111.50,82.38 L111.66,82.67 L111.82,82.96 L111.97,83.25 L112.13,83.53 L112.29,83.82 L112.45,84.11 L112.61,84.39 L112.76,84.68 L112.92,84.96 L113.08,85.24 L113.24,85.53 L113.40,85.81 L113.55,86.09 L113.71,86.37 L113.87,86.65 L114.03,86.93 L114.19,87.20 L114.34,87.48 L114.50,87.76 L114.66,88.03 L114.82,88.31 L114.98,88.58 L115.13,88.86 L115.29,89.13 L115.45,89.40 L115.61,89.67 L115.77,89.94 L115.92,90.21 L116.08,90.48 L116.24,90.75 L116.40,91.02 L116.56,91.28 L116.71,91.55 L116.87,91.81 L117.03,92.08 L117.19,92.34 L117.35,92.60 L117.50,92.86 L117.66,93.13 L117.82,93.39 L117.98,93.65 L118.14,93.90 L118.29,94.16 L118.45,94.42 L118.61,94.68 L118.77,94.93 L118.93,95.19 L119.08,95.44 L119.24,95.69 L119.40,95.95 L120.18,97.19 L120.97,98.41 L121.75,99.61 L122.54,100.80 L123.32,101.96 L124.11,103.11 L124.89,104.24 L125.68,105.35 L126.46,106.45 L127.24,107.52 L128.03,108.58 L128.81,109.62 L129.60,110.65 L130.38,111.65 L131.17,112.64 L131.95,113.62 L132.74,114.58 L133.52,115.52 L134.30,116.45 L135.09,117.37 L135.87,118.27 L136.66,119.15 L137.44,120.02 L138.23,120.88 L139.01,121.72 L139.79,122.55 L140.58,123.37 L141.36,124.17 L142.15,124.96 L142.93,125.74 L143.72,126.51 L144.50,127.26 L145.29,128.00 L146.07,128.73 L146.85,129.45 L147.64,130.16 L148.42,130.86 L149.21,131.55 L149.99,132.23 L150.78,132.89 L151.56,133.55 L152.35,134.20 L153.13,134.84 L153.91,135.46 L154.70,136.08 L155.48,136.69 L156.27,137.29 L157.05,137.89 L157.84,138.47 L158.62,139.05 L159.41,139.61 L160.19,140.17 L160.97,140.72 L161.76,141.27 L162.54,141.80 L163.33,142.33 L164.11,142.85 L164.90,143.37 L165.68,143.87 L166.46,144.37 L167.25,144.87 L168.03,145.35 L168.82,145.83 L169.60,146.31 L170.39,146.78 L171.17,147.24 L171.96,147.69 L172.74,148.14 L173.52,148.59 L174.31,149.02 L175.09,149.46 L175.88,149.88 L176.66,150.30 L177.45,150.72 L178.23,151.13 L179.02,151.53 L179.80,151.94 L180.58,152.33 L181.37,152.72 L182.15,153.11 L182.94,153.49 L183.72,153.86 L184.51,154.24 L185.29,154.60 L186.08,154.97 L186.86,155.33 L187.64,155.68 L188.43,156.03 L189.21,156.38 L190.00,156.72 L190.78,157.06 L191.57,157.39 L192.35,157.72 L193.13,158.05 L193.92,158.37 L194.70,158.69 L195.49,159.01 L196.27,159.32 L197.06,159.63 L197.84,159.93 L198.63,160.23 L199.41,160.53 L200.19,160.83 L200.98,161.12 L201.76,161.41 L202.55,161.69 L203.33,161.98 L204.12,162.25 L204.90,162.53 L205.69,162.81 L206.47,163.08 L207.25,163.34 L208.04,163.61 L208.82,163.87 L209.61,164.13 L210.39,164.39 L211.18,164.64 L211.96,164.89 L212.75,165.14 L213.53,165.39 L214.31,165.63 L215.10,165.88 L215.88,166.11 L216.67,166.35 L217.45,166.59 L218.24,166.82 L219.02,167.05 L219.80,167.28 L220.59,167.50 L221.37,167.72 L222.16,167.95 L222.94,168.17 L223.73,168.38 L224.51,168.60 L225.30,168.81 L226.08,169.02 L226.86,169.23 L227.65,169.44 L228.43,169.64 L229.22,169.84 L230.00,170.05 L230.79,170.24 L231.57,170.44 L232.36,170.64 L233.14,170.83 L233.92,171.02 L234.71,171.21 L235.49,171.40 L236.28,171.59 L237.06,171.78 L237.85,171.96 L238.63,172.14 L239.42,172.32 L240.20,172.50 L240.98,172.68 L241.77,172.85 L242.55,173.03 L243.34,173.20 L244.12,173.37 L244.91,173.54 L245.69,173.71 L246.47,173.88 L247.26,174.04 L248.04,174.21 L248.83,174.37 L249.61,174.53 L250.40,174.69 L251.18,174.85 L251.97,175.01 L252.75,175.16 L253.53,175.32 L254.32,175.47 L255.10,175.63 L255.89,175.78 L256.67,175.93 L257.46,176.08 L258.24,176.22 L259.03,176.37 L259.81,176.51 L260.59,176.66 L261.38,176.80 L262.16,176.94 L262.95,177.08 L263.73,177.22 L264.52,177.36 L265.30,177.50 L266.09,177.64 L266.87,177.77 L267.65,177.91 L268.44,178.04 L269.22,178.17 L270.01,178.30 L270.79,178.43 L271.58,178.56 L272.36,178.69 L273.14,178.82 L273.93,178.94 L274.71,179.07 L275.50,179.19 L276.28,179.32 L277.07,179.44 L277.85,179.56 L278.64,179.68 L279.42,179.80 L280.20,179.92 L280.99,180.04 L281.77,180.16 L282.56,180.27 L283.34,180.39 L284.13,180.51 L284.91,180.62 L285.70,180.73 L286.48,180.85 L287.26,180.96 L288.05,181.07 L288.83,181.18 L289.62,181.29 L290.40,181.40 L291.19,181.50 L291.97,181.61 L292.76,181.72 L293.54,181.82 L294.32,181.93 L295.11,182.03 L295.89,182.14 L296.68,182.24 L297.46,182.34 L298.25,182.44 L299.03,182.54 L299.81,182.64 L300.60,182.74 L301.38,182.84 L302.17,182.94 L302.95,183.04 L303.74,183.14 L304.52,183.23 L305.31,183.33 L306.09,183.42 L306.87,183.52 L307.66,183.61 L308.44,183.70 L309.23,183.80 L310.01,183.89 L310.80,183.98 L311.58,184.07 L312.37,184.16 L313.15,184.25 L313.93,184.34 L314.72,184.43 L315.50,184.52 L316.29,184.60 L317.07,184.69 L317.86,184.78 L318.64,184.86 L319.43,184.95 L320.21,185.03 L320.99,185.12 L321.78,185.20 L322.56,185.28 L323.35,185.37 L324.13,185.45 L324.92,185.53 L325.70,185.61 L326.48,185.69 L327.27,185.77 L328.05,185.85 L328.84,185.93 L329.62,186.01 L330.41,186.09 L331.19,186.17 L331.98,186.24 L332.76,186.32 L333.54,186.40 L334.33,186.47 L335.11,186.55 L335.90,186.63 L336.68,186.70 L337.47,186.77 L338.25,186.85 L339.04,186.92 L339.82,187.00 L340.60,187.07 L341.39,187.14 L342.17,187.21 L342.96,187.28 L343.74,187.35 L344.53,187.43 L345.31,187.50 L346.10,187.57 L346.88,187.64 L347.66,187.70 L348.45,187.77 L349.23,187.84 L350.02,187.91 L350.80,187.98 L351.59,188.04 L352.37,188.11 L353.15,188.18 L353.94,188.24 L354.72,188.31 L355.51,188.37 L356.29,188.44 L357.08,188.50 L357.86,188.57 L358.65,188.63 L359.43,188.70 L360.21,188.76 L361.00,188.82 L361.78,188.89 L362.57,188.95 L363.35,189.01 L364.14,189.07 L364.92,189.13 L365.71,189.19 L366.49,189.25 L367.27,189.31 L368.06,189.37 L368.84,189.43 L369.63,189.49 L370.41,189.55 L371.20,189.61 L371.98,189.67 L372.77,189.73 L373.55,189.79 L374.33,189.84 L375.12,189.90 L375.90,189.96 L376.69,190.02 L377.47,190.07 L378.26,190.13 L379.04,190.18 L379.82,190.24 L380.61,190.30 L381.39,190.35 L382.18,190.41 L382.96,190.46 L383.75,190.51 L384.53,190.57 L385.32,190.62 L386.10,190.68" stroke="#e51e10" stroke-width="3.1"/>
<path d="M72.00,213.50 L72.16,209.18 L72.32,204.86 L72.47,200.56 L72.63,196.28 L72.79,192.01 L72.95,187.78 L73.11,183.58 L73.26,179.43 L73.42,175.31 L73.58,171.25 L73.74,167.24 L73.90,163.29 L74.05,159.40 L74.21,155.58 L74.37,151.82 L74.53,148.14 L74.69,144.53 L74.84,140.99 L75.00,137.53 L75.16,134.15 L75.32,130.85 L75.48,127.63 L75.63,124.48 L75.79,121.42 L75.95,118.45 L76.11,115.55 L76.27,112.73 L76.42,109.99 L76.58,107.33 L76.74,104.75 L76.90,102.25 L77.06,99.83 L77.21,97.48 L77.37,95.20 L77.53,93.00 L77.69,90.87 L77.85,88.80 L78.00,86.81 L78.16,84.88 L78.32,83.02 L78.48,81.23 L78.64,79.49 L78.79,77.82 L78.95,76.20 L79.11,74.65 L79.27,73.15 L79.43,71.70 L79.58,70.31 L79.74,68.97 L79.90,67.68 L80.06,66.44 L80.22,65.25 L80.37,64.10 L80.53,63.00 L80.69,61.94 L80.85,60.92 L81.01,59.95 L81.16,59.01 L81.32,58.12 L81.48,57.26 L81.64,56.43 L81.80,55.65 L81.95,54.89 L82.11,54.17 L82.27,53.48 L82.43,52.83 L82.59,52.20 L82.74,51.60 L82.90,51.04 L83.06,50.49 L83.22,49.98 L83.38,49.49 L83.53,49.03 L83.69,48.59 L83.85,48.18 L84.01,47.78 L84.17,47.42 L84.32,47.07 L84.48,46.74 L84.64,46.43 L84.80,46.15 L84.96,45.88 L85.11,45.63 L85.27,45.40 L85.43,45.19 L85.59,44.99 L85.75,44.81 L85.90,44.65 L86.06,44.50 L86.22,44.37 L86.38,44.25 L86.54,44.14 L86.69,44.05 L86.85,43.97 L87.01,43.91 L87.17,43.86 L87.33,43.82 L87.48,43.79 L87.64,43.77 L87.80,43.77 L87.96,43.77 L88.12,43.79 L88.27,43.81 L88.43,43.85 L88.59,43.90 L88.75,43.95 L88.91,44.01 L89.06,44.09 L89.22,44.17 L89.38,44.26 L89.54,44.35 L89.70,44.46 L89.85,44.57 L90.01,44.69 L90.17,44.82 L90.33,44.95 L90.49,45.09 L90.64,45.24 L90.80,45.39 L90.96,45.55 L91.12,45.72 L91.28,45.89 L91.43,46.07 L91.59,46.25 L91.75,46.43 L91.91,46.63 L92.07,46.82 L92.22,47.03 L92.38,47.23 L92.54,47.44 L92.70,47.66 L92.86,47.88 L93.01,48.10 L93.17,48.33 L93.33,48.56 L93.49,48.79 L93.65,49.03 L93.80,49.27 L93.96,49.52 L94.12,49.77 L94.28,50.02 L94.44,50.27 L94.59,50.53 L94.75,50.79 L94.91,51.05 L95.07,51.32 L95.23,51.59 L95.38,51.86 L95.54,52.13 L95.70,52.41 L95.86,52.68 L96.02,52.96 L96.17,53.24 L96.33,53.53 L96.49,53.81 L96.65,54.10 L96.81,54.39 L96.96,54.68 L97.12,54.97 L97.28,55.26 L97.44,55.56 L97.60,55.86 L97.75,56.15 L97.91,56.45 L98.07,56.75 L98.23,57.05 L98.39,57.36 L98.54,57.66 L98.70,57.97 L98.86,58.27 L99.02,58.58 L99.18,58.88 L99.33,59.19 L99.49,59.50 L99.65,59.81 L99.81,60.12 L99.97,60.43 L100.12,60.74 L100.28,61.06 L100.44,61.37 L100.60,61.68 L100.76,62.00 L100.91,62.31 L101.07,62.62 L101.23,62.94 L101.39,63.25 L101.55,63.57 L101.70,63.89 L101.86,64.20 L102.02,64.52 L102.18,64.83 L102.34,65.15 L102.49,65.47 L102.65,65.78 L102.81,66.10 L102.97,66.42 L103.13,66.73 L103.28,67.05 L103.44,67.36 L103.60,67.68 L103.76,68.00 L103.92,68.31 L104.07,68.63 L104.23,68.94 L104.39,69.26 L104.55,69.58 L104.71,69.89 L104.86,70.21 L105.02,70.52 L105.18,70.83 L105.34,71.15 L105.50,71.46 L105.65,71.78 L105.81,72.09 L105.97,72.40 L106.13,72.71 L106.29,73.03 L106.44,73.34 L106.60,73.65 L106.76,73.96 L106.92,74.27 L107.08,74.58 L107.23,74.89 L107.39,75.20 L107.55,75.51 L107.71,75.81 L107.87,76.12 L108.02,76.43 L108.18,76.73 L108.34,77.04 L108.50,77.34 L108.66,77.65 L108.81,77.95 L108.97,78.26 L109.13,78.56 L109.29,78.86 L109.45,79.16 L109.60,79.46 L109.76,79.76 L109.92,80.06 L110.08,80.36 L110.24,80.66 L110.39,80.96 L110.55,81.26 L110.71,81.55 L110.87,81.85 L111.03,82.14 L111.18,82.44 L111.34,82.73 L111.50,83.02 L111.66,83.32 L111.82,83.61 L111.97,83.90 L112.13,84.19 L112.29,84.48 L112.45,84.77 L112.61,85.05 L112.76,85.34 L112.92,85.63 L113.08,85.91 L113.24,86.20 L113.40,86.48 L113.55,86.77 L113.71,87.05 L113.87,87.33 L114.03,87.61 L114.19,87.89 L114.34,88.17 L114.50,88.45 L114.66,88.73 L114.82,89.01 L114.98,89.28 L115.13,89.56 L115.29,89.83 L115.45,90.11 L115.61,90.38 L115.77,90.65 L115.92,90.93 L116.08,91.20 L116.24,91.47 L116.40,91.74 L116.56,92.01 L116.71,92.27 L116.87,92.54 L117.03,92.81 L117.19,93.07 L117.35,93.34 L117.50,93.60 L117.66,93.87 L117.82,94.13 L117.98,94.39 L118.14,94.65 L118.29,94.91 L118.45,95.17 L118.61,95.43 L118.77,95.69 L118.93,95.94 L119.08,96.20 L119.24,96.45 L119.40,96.71 L120.18,97.96 L120.97,99.20 L121.75,100.41 L122.54,101.60 L123.32,102.78 L124.11,103.94 L124.89,105.08 L125.68,106.20 L126.46,107.30 L127.24,108.39 L128.03,109.45 L128.81,110.50 L129.60,111.54 L130.38,112.55 L131.17,113.55 L131.95,114.54 L132.74,115.51 L133.52,116.46 L134.30,117.39 L135.09,118.32 L135.87,119.22 L136.66,120.11 L137.44,120.99 L138.23,121.85 L139.01,122.70 L139.79,123.54 L140.58,124.36 L141.36,125.17 L142.15,125.97 L142.93,126.75 L143.72,127.53 L144.50,128.29 L145.29,129.04 L146.07,129.77 L146.85,130.50 L147.64,131.21 L148.42,131.91 L149.21,132.61 L149.99,133.29 L150.78,133.96 L151.56,134.62 L152.35,135.27 L153.13,135.92 L153.91,136.55 L154.70,137.17 L155.48,137.78 L156.27,138.39 L157.05,138.99 L157.84,139.57 L158.62,140.15 L159.41,140.72 L160.19,141.29 L160.97,141.84 L161.76,142.39 L162.54,142.93 L163.33,143.46 L164.11,143.98 L164.90,144.50 L165.68,145.01 L166.46,145.51 L167.25,146.01 L168.03,146.50 L168.82,146.98 L169.60,147.45 L170.39,147.92 L171.17,148.39 L171.96,148.84 L172.74,149.30 L173.52,149.74 L174.31,150.18 L175.09,150.62 L175.88,151.04 L176.66,151.47 L177.45,151.88 L178.23,152.30 L179.02,152.70 L179.80,153.11 L180.58,153.50 L181.37,153.89 L182.15,154.28 L182.94,154.66 L183.72,155.04 L184.51,155.41 L185.29,155.78 L186.08,156.15 L186.86,156.51 L187.64,156.86 L188.43,157.21 L189.21,157.56 L190.00,157.90 L190.78,158.24 L191.57,158.58 L192.35,158.91 L193.13,159.24 L193.92,159.56 L194.70,159.88 L195.49,160.20 L196.27,160.51 L197.06,160.82 L197.84,161.12 L198.63,161.43 L199.41,161.73 L200.19,162.02 L200.98,162.31 L201.76,162.60 L202.55,162.89 L203.33,163.17 L204.12,163.45 L204.90,163.73 L205.69,164.00 L206.47,164.28 L207.25,164.54 L208.04,164.81 L208.82,165.07 L209.61,165.33 L210.39,165.59 L211.18,165.84 L211.96,166.10 L212.75,166.35 L213.53,166.59 L214.31,166.84 L215.10,167.08 L215.88,167.32 L216.67,167.56 L217.45,167.79 L218.24,168.02 L219.02,168.25 L219.80,168.48 L220.59,168.71 L221.37,168.93 L222.16,169.15 L222.94,169.37 L223.73,169.59 L224.51,169.80 L225.30,170.02 L226.08,170.23 L226.86,170.44 L227.65,170.64 L228.43,170.85 L229.22,171.05 L230.00,171.25 L230.79,171.45 L231.57,171.65 L232.36,171.85 L233.14,172.04 L233.92,172.23 L234.71,172.42 L235.49,172.61 L236.28,172.80 L237.06,172.98 L237.85,173.17 L238.63,173.35 L239.42,173.53 L240.20,173.71 L240.98,173.89 L241.77,174.06 L242.55,174.24 L243.34,174.41 L244.12,174.58 L244.91,174.75 L245.69,174.92 L246.47,175.09 L247.26,175.25 L248.04,175.42 L248.83,175.58 L249.61,175.74 L250.40,175.90 L251.18,176.06 L251.97,176.22 L252.75,176.37 L253.53,176.53 L254.32,176.68 L255.10,176.84 L255.89,176.99 L256.67,177.14 L257.46,177.28 L258.24,177.43 L259.03,177.58 L259.81,177.72 L260.59,177.87 L261.38,178.01 L262.16,178.15 L262.95,178.29 L263.73,178.43 L264.52,178.57 L265.30,178.71 L266.09,178.85 L266.87,178.98 L267.65,179.12 L268.44,179.25 L269.22,179.38 L270.01,179.51 L270.79,179.64 L271.58,179.77 L272.36,179.90 L273.14,180.03 L273.93,180.15 L274.71,180.28 L275.50,180.40 L276.28,180.53 L277.07,180.65 L277.85,180.77 L278.64,180.89 L279.42,181.01 L280.20,181.13 L280.99,181.25 L281.77,181.37 L282.56,181.48 L283.34,181.60 L284.13,181.72 L284.91,181.83 L285.70,181.94 L286.48,182.06 L287.26,182.17 L288.05,182.28 L288.83,182.39 L289.62,182.50 L290.40,182.61 L291.19,182.71 L291.97,182.82 L292.76,182.93 L293.54,183.03 L294.32,183.14 L295.11,183.24 L295.89,183.35 L296.68,183.45 L297.46,183.55 L298.25,183.65 L299.03,183.75 L299.81,183.85 L300.60,183.95 L301.38,184.05 L302.17,184.15 L302.95,184.25 L303.74,184.35 L304.52,184.44 L305.31,184.54 L306.09,184.63 L306.87,184.73 L307.66,184.82 L308.44,184.91 L309.23,185.01 L310.01,185.10 L310.80,185.19 L311.58,185.28 L312.37,185.37 L313.15,185.46 L313.93,185.55 L314.72,185.64 L315.50,185.73 L316.29,185.81 L317.07,185.90 L317.86,185.99 L318.64,186.07 L319.43,186.16 L320.21,186.24 L320.99,186.33 L321.78,186.41 L322.56,186.49 L323.35,186.58 L324.13,186.66 L324.92,186.74 L325.70,186.82 L326.48,186.90 L327.27,186.98 L328.05,187.06 L328.84,187.14 L329.62,187.22 L330.41,187.30 L331.19,187.38 L331.98,187.46 L332.76,187.53 L333.54,187.61 L334.33,187.68 L335.11,187.76 L335.90,187.84 L336.68,187.91 L337.47,187.99 L338.25,188.06 L339.04,188.13 L339.82,188.21 L340.60,188.28 L341.39,188.35 L342.17,188.42 L342.96,188.49 L343.74,188.57 L344.53,188.64 L345.31,188.71 L346.10,188.78 L346.88,188.85 L347.66,188.91 L348.45,188.98 L349.23,189.05 L350.02,189.12 L350.80,189.19 L351.59,189.25 L352.37,189.32 L353.15,189.39 L353.94,189.45 L354.72,189.52 L355.51,189.58 L356.29,189.65 L357.08,189.71 L357.86,189.78 L358.65,189.84 L359.43,189.91 L360.21,189.97 L361.00,190.03 L361.78,190.10 L362.57,190.16 L363.35,190.22 L364.14,190.28 L364.92,190.34 L365.71,190.40 L366.49,190.46 L367.27,190.52 L368.06,190.59 L368.84,190.64 L369.63,190.70 L370.41,190.76 L371.20,190.82 L371.98,190.88 L372.77,190.94 L373.55,191.00 L374.33,191.05 L375.12,191.11 L375.90,191.17 L376.69,191.23 L377.47,191.28 L378.26,191.34 L379.04,191.39 L379.82,191.45 L380.61,191.51 L381.39,191.56 L382.18,191.62 L382.96,191.67 L383.75,191.72 L384.53,191.78 L385.32,191.83 L386.10,191.89" stroke="#000" stroke-width="1.2"/>
</g>
<!-- legend samples -->
<g fill="none">
<path d="M137,147.05 H156.6" stroke="#009e73" stroke-width="2.1" stroke-dasharray="4 5.1"/>
<path d="M137,161.3 H157" stroke="#9400d3" stroke-width="2.1" stroke-dasharray="7.3 11 1.7 5"/>
<path d="M137,175.8 H157" stroke="#0072b2" stroke-width="2.1"/>
<path d="M137,190.0 H157" stroke="#e51e10" stroke-width="3.1"/>
<path d="M137,204.5 H156.5" stroke="#000" stroke-width="1.1"/>
</g>
<!-- frame -->
<g fill="none" stroke="#000" stroke-width="0.85">
<path d="M72.00,213.50 v-5.6 M72.00,19.00 v5.6 M103.60,213.50 v-5.6 M103.60,19.00 v5.6 M135.20,213.50 v-5.6 M135.20,19.00 v5.6 M166.80,213.50 v-5.6 M166.80,19.00 v5.6 M198.40,213.50 v-5.6 M198.40,19.00 v5.6 M230.00,213.50 v-5.6 M230.00,19.00 v5.6 M261.60,213.50 v-5.6 M261.60,19.00 v5.6 M293.20,213.50 v-5.6 M293.20,19.00 v5.6 M324.80,213.50 v-5.6 M324.80,19.00 v5.6 M356.40,213.50 v-5.6 M356.40,19.00 v5.6 M388.00,213.50 v-5.6 M388.00,19.00 v5.6 M72.00,213.50 h5.6 M388.00,213.50 h-5.6 M72.00,191.89 h5.6 M388.00,191.89 h-5.6 M72.00,170.28 h5.6 M388.00,170.28 h-5.6 M72.00,148.67 h5.6 M388.00,148.67 h-5.6 M72.00,127.06 h5.6 M388.00,127.06 h-5.6 M72.00,105.44 h5.6 M388.00,105.44 h-5.6 M72.00,83.83 h5.6 M388.00,83.83 h-5.6 M72.00,62.22 h5.6 M388.00,62.22 h-5.6 M72.00,40.61 h5.6 M388.00,40.61 h-5.6 M72.00,19.00 h5.6 M388.00,19.00 h-5.6" stroke-width="0.7"/>
<rect x="72.0" y="19.0" width="316.00" height="194.50"/>
</g>
<g class="txt">
<text x="63.0" y="217.60" text-anchor="end">0</text>
<text x="63.0" y="195.99" text-anchor="end">0.05</text>
<text x="63.0" y="174.38" text-anchor="end">0.1</text>
<text x="63.0" y="152.77" text-anchor="end">0.15</text>
<text x="63.0" y="131.16" text-anchor="end">0.2</text>
<text x="63.0" y="109.54" text-anchor="end">0.25</text>
<text x="63.0" y="87.93" text-anchor="end">0.3</text>
<text x="63.0" y="66.32" text-anchor="end">0.35</text>
<text x="63.0" y="44.71" text-anchor="end">0.4</text>
<text x="63.0" y="23.10" text-anchor="end">0.45</text>

<text x="72.00" y="231.3" text-anchor="middle">0</text>
<text x="103.60" y="231.3" text-anchor="middle">2</text>
<text x="135.20" y="231.3" text-anchor="middle">4</text>
<text x="166.80" y="231.3" text-anchor="middle">6</text>
<text x="198.40" y="231.3" text-anchor="middle">8</text>
<text x="230.00" y="231.3" text-anchor="middle">10</text>
<text x="261.60" y="231.3" text-anchor="middle">12</text>
<text x="293.20" y="231.3" text-anchor="middle">14</text>
<text x="324.80" y="231.3" text-anchor="middle">16</text>
<text x="356.40" y="231.3" text-anchor="middle">18</text>
<text x="388.00" y="231.3" text-anchor="middle">20</text>

<!-- legend text -->
<g transform="translate(92.85,150.70) scale(0.95)" fill="none" stroke="#111" stroke-linecap="round" stroke-linejoin="round"><path d="M0.2,-4.0 C0.7,-5.6 1.6,-6.3 2.7,-6.3 C4.6,-6.3 5.5,-3.5 5.6,-0.3 L5.0,3.0" stroke-width="1.05"/><path d="M8.3,-6.3 C7.6,-4.2 6.6,-2.2 5.6,-0.3" stroke-width="0.75"/></g><circle cx="96.65" cy="141.70" r="0.85" fill="#111"/><path d="M105.70,145.30 h10 M105.70,148.40 h10" stroke="#111" stroke-width="0.75" fill="none"/><text x="128.2" y="150.70" text-anchor="end">1</text>
<g transform="translate(92.85,165.20) scale(0.95)" fill="none" stroke="#111" stroke-linecap="round" stroke-linejoin="round"><path d="M0.2,-4.0 C0.7,-5.6 1.6,-6.3 2.7,-6.3 C4.6,-6.3 5.5,-3.5 5.6,-0.3 L5.0,3.0" stroke-width="1.05"/><path d="M8.3,-6.3 C7.6,-4.2 6.6,-2.2 5.6,-0.3" stroke-width="0.75"/></g><circle cx="96.65" cy="156.20" r="0.85" fill="#111"/><path d="M105.70,159.80 h10 M105.70,162.90 h10" stroke="#111" stroke-width="0.75" fill="none"/><text x="128.2" y="165.20" text-anchor="end">2</text>
<g transform="translate(85.35,179.70) scale(0.95)" fill="none" stroke="#111" stroke-linecap="round" stroke-linejoin="round"><path d="M0.2,-4.0 C0.7,-5.6 1.6,-6.3 2.7,-6.3 C4.6,-6.3 5.5,-3.5 5.6,-0.3 L5.0,3.0" stroke-width="1.05"/><path d="M8.3,-6.3 C7.6,-4.2 6.6,-2.2 5.6,-0.3" stroke-width="0.75"/></g><circle cx="89.15" cy="170.70" r="0.85" fill="#111"/><path d="M98.20,174.30 h10 M98.20,177.40 h10" stroke="#111" stroke-width="0.75" fill="none"/><text x="128.2" y="179.70" text-anchor="end">10</text>
<g transform="translate(77.85,194.20) scale(0.95)" fill="none" stroke="#111" stroke-linecap="round" stroke-linejoin="round"><path d="M0.2,-4.0 C0.7,-5.6 1.6,-6.3 2.7,-6.3 C4.6,-6.3 5.5,-3.5 5.6,-0.3 L5.0,3.0" stroke-width="1.05"/><path d="M8.3,-6.3 C7.6,-4.2 6.6,-2.2 5.6,-0.3" stroke-width="0.75"/></g><circle cx="81.65" cy="185.20" r="0.85" fill="#111"/><path d="M90.70,188.80 h10 M90.70,191.90 h10" stroke="#111" stroke-width="0.75" fill="none"/><text x="128.2" y="194.20" text-anchor="end">100</text>
<text x="128.0" y="208.3" text-anchor="end" class="sans">EL</text>
<g transform="translate(225.80,252.20) scale(0.95)" fill="none" stroke="#111" stroke-linecap="round" stroke-linejoin="round"><path d="M0.2,-4.0 C0.7,-5.6 1.6,-6.3 2.7,-6.3 C4.6,-6.3 5.5,-3.5 5.6,-0.3 L5.0,3.0" stroke-width="1.05"/><path d="M8.3,-6.3 C7.6,-4.2 6.6,-2.2 5.6,-0.3" stroke-width="0.75"/></g>
<text transform="translate(17.0,116.4) rotate(-90)" text-anchor="middle" class="it" style="font-size:16px">θ</text>
</g>
</svg>
</body></html>
